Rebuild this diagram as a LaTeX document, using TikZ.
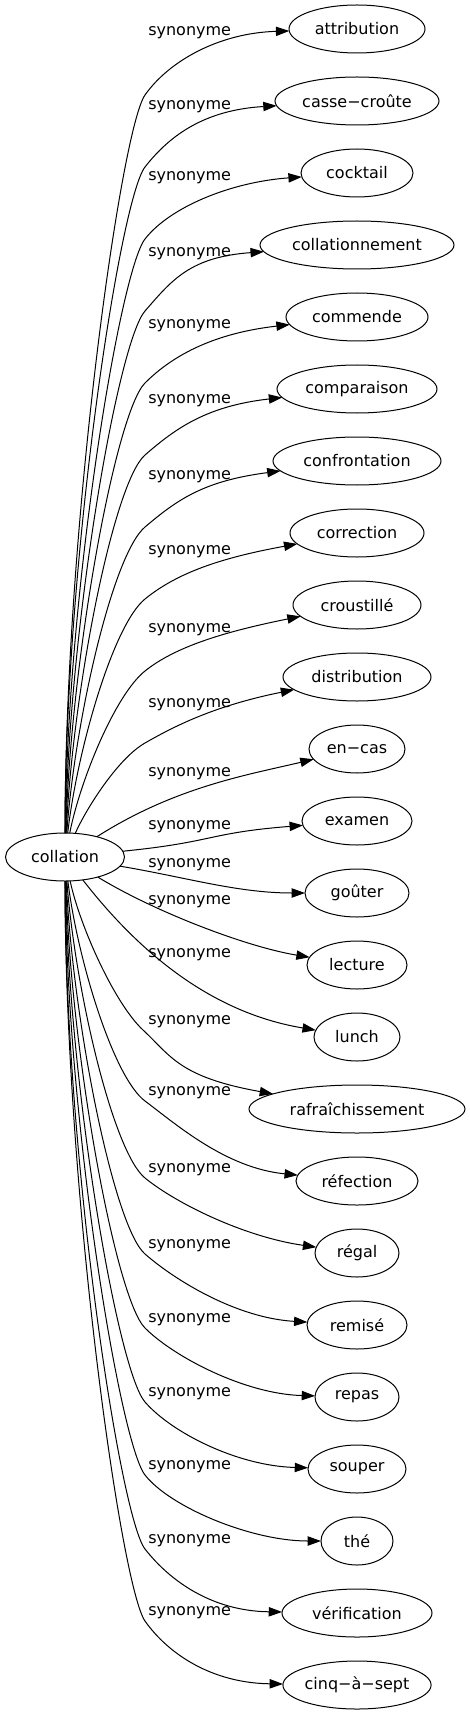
\documentclass[tikz,border=0pt]{standalone}
\usepackage{fontspec}
\setmainfont{DejaVu Sans}
\usetikzlibrary{shapes.geometric,positioning,arrows.meta}
\tikzset{
  main/.style={ellipse, draw=black, line width=0.75pt, minimum height=36pt, inner sep=0pt, outer sep=0pt, font=\fontsize{12}{14}\selectfont},
  halfw/.style={minimum width=#1*1.5pt},
  connect/.style={-{Triangle[length=10pt,width=7pt]}, line width=0.75pt},
  tag/.style={anchor=west, inner sep=0pt, font=\fontsize{12}{14}\selectfont}
}

\begin{document}
\begin{tikzpicture}[x=0.75pt, y=-0.75pt, node distance=18pt]
    \useasboundingbox (0,0) rectangle (470,1715);
    \node[main, halfw=59.5] (collation) at (65,857) {collation};
    \node[main, halfw=68] (attribution) at (357,29) {attribution};
    \node[main, halfw=82] (cassecroute) [below=of attribution] {casse−croûte};
    \node[main, halfw=56] (cocktail) [below=of cassecroute] {cocktail};
    \node[main, halfw=97] (collationnement) [below=of cocktail] {collationnement};
    \node[main, halfw=71] (commende) [below=of collationnement] {commende};
    \node[main, halfw=80] (comparaison) [below=of commende] {comparaison};
    \node[main, halfw=84] (confrontation) [below=of comparaison] {confrontation};
    \node[main, halfw=67] (correction) [below=of confrontation] {correction};
    \node[main, halfw=64] (croustille) [below=of correction] {croustillé};
    \node[main, halfw=74] (distribution) [below=of croustille] {distribution};
    \node[main, halfw=48] (encas) [below=of distribution] {en−cas};
    \node[main, halfw=55] (examen) [below=of encas] {examen};
    \node[main, halfw=52] (gouter) [below=of examen] {goûter};
    \node[main, halfw=50] (lecture) [below=of gouter] {lecture};
    \node[main, halfw=43] (lunch) [below=of lecture] {lunch};
    \node[main, halfw=108] (rafraichissement) [below=of lunch] {rafraîchissement};
    \node[main, halfw=61] (refection) [below=of rafraichissement] {réfection};
    \node[main, halfw=42] (regal) [below=of refection] {régal};
    \node[main, halfw=50] (remise) [below=of regal] {remisé};
    \node[main, halfw=42] (repas) [below=of remise] {repas};
    \node[main, halfw=49] (souper) [below=of repas] {souper};
    \node[main, halfw=36] (the) [below=of souper] {thé};
    \node[main, halfw=75] (verification) [below=of the] {vérification};
    \node[main, halfw=74] (cinqasept) [below=of verification] {cinq−à−sept};

    % edge labels
    \node[tag] (syn1) at (148,33) {synonyme};
    \node[tag] (syn2) at (148,107) {synonyme};
    \node[tag] (syn3) at (148,178) {synonyme};
    \node[tag] (syn4) at (148,254) {synonyme};
    \node[tag] (syn5) at (148,326) {synonyme};
    \node[tag] (syn6) at (148,401) {synonyme};
    \node[tag] (syn7) at (148,477) {synonyme};
    \node[tag] (syn8) at (148,552) {synonyme};
    \node[tag] (syn9) at (148,630) {synonyme};
    \node[tag] (syn10) at (148,705) {synonyme};
    \node[tag] (syn11) at (148,774) {synonyme};
    \node[tag] (syn12) at (148,827) {synonyme};
    \node[tag] (syn13) at (148,865) {synonyme};
    \node[tag] (syn14) at (148,902) {synonyme};
    \node[tag] (syn15) at (148,955) {synonyme};
    \node[tag] (syn16) at (148,1022) {synonyme};
    \node[tag] (syn17) at (148,1093) {synonyme};
    \node[tag] (syn18) at (148,1170) {synonyme};
    \node[tag] (syn19) at (148,1246) {synonyme};
    \node[tag] (syn20) at (148,1320) {synonyme};
    \node[tag] (syn21) at (148,1394) {synonyme};
    \node[tag] (syn22) at (148,1467) {synonyme};
    \node[tag] (syn23) at (148,1541) {synonyme};
    \node[tag] (syn24) at (148,1613) {synonyme};

    % edges, bent at x=145 for the far ones
    \draw[connect] (collation) .. controls +(0,-330) and +(-24,34) .. (145,95) .. controls +(24,-34) and +(-138,4) .. (attribution);
    \draw[connect] (collation) .. controls +(0,-298) and +(-25,32) .. (145,167) .. controls +(25,-32) and +(-152,9) .. (cassecroute);
    \draw[connect] (collation) .. controls +(2,-266) and +(-25,32) .. (145,239) .. controls +(25,-32) and +(-126,9) .. (cocktail);
    \draw[connect] (collation) .. controls +(4,-234) and +(-27,31) .. (145,311) .. controls +(27,-31) and +(-167,12) .. (collationnement);
    \draw[connect] (collation) .. controls +(6,-202) and +(-29,29) .. (145,383) .. controls +(29,-29) and +(-141,16) .. (commende);
    \draw[connect] (collation) .. controls +(8,-170) and +(-31,27) .. (145,455) .. controls +(31,-27) and +(-150,17) .. (comparaison);
    \draw[connect] (collation) .. controls +(10,-138) and +(-32,27) .. (145,527) .. controls +(32,-27) and +(-154,20) .. (confrontation);
    \draw[connect] (collation) .. controls +(12,-106) and +(-32,26) .. (145,599) .. controls +(32,-26) and +(-137,25) .. (correction);
    \draw[connect] (collation) .. controls +(15,-76) and +(-30,24) .. (145,671) .. controls +(30,-24) and +(-134,27) .. (croustille);
    \draw[connect] (collation) .. controls +(20,-46) and +(-28,16) .. (145,743) .. controls +(28,-16) and +(-144,29) .. (distribution);
    \draw[connect] (collation) .. controls +(110,-70) and +(-110,26) .. (encas);
    \draw[connect] (collation) .. controls +(150,-15) and +(-150,12) .. (examen);
    \draw[connect] (collation) .. controls +(120,20) and +(-120,0) .. (gouter);
    \draw[connect] (collation) .. controls +(90,55) and +(-110,-18) .. (lecture);
    \draw[connect] (collation) .. controls +(70,90) and +(-150,-25) .. (lunch);
    \draw[connect] (collation) .. controls +(15,70) and +(-28,-26) .. (143,1030) .. controls +(28,26) and +(-178,-32) .. (rafraichissement);
    \draw[connect] (collation) .. controls +(12,100) and +(-32,-24) .. (145,1101) .. controls +(32,24) and +(-131,-13) .. (refection);
    \draw[connect] (collation) .. controls +(10,132) and +(-32,-26) .. (145,1178) .. controls +(32,26) and +(-112,-16) .. (regal);
    \draw[connect] (collation) .. controls +(8,166) and +(-31,-27) .. (145,1254) .. controls +(31,27) and +(-120,-7) .. (remise);
    \draw[connect] (collation) .. controls +(6,200) and +(-29,-29) .. (145,1328) .. controls +(29,29) and +(-112,-3) .. (repas);
    \draw[connect] (collation) .. controls +(4,233) and +(-27,-31) .. (145,1402) .. controls +(27,31) and +(-119,-3) .. (souper);
    \draw[connect] (collation) .. controls +(2,266) and +(-25,-32) .. (145,1475) .. controls +(25,32) and +(-106,0) .. (the);
    \draw[connect] (collation) .. controls +(0,299) and +(-25,-32) .. (145,1549) .. controls +(25,32) and +(-145,-2) .. (verification);
    \draw[connect] (collation) .. controls +(0,332) and +(-24,-34) .. (145,1621) .. controls +(24,34) and +(-144,-2) .. (cinqasept);
\end{tikzpicture}
\end{document}
